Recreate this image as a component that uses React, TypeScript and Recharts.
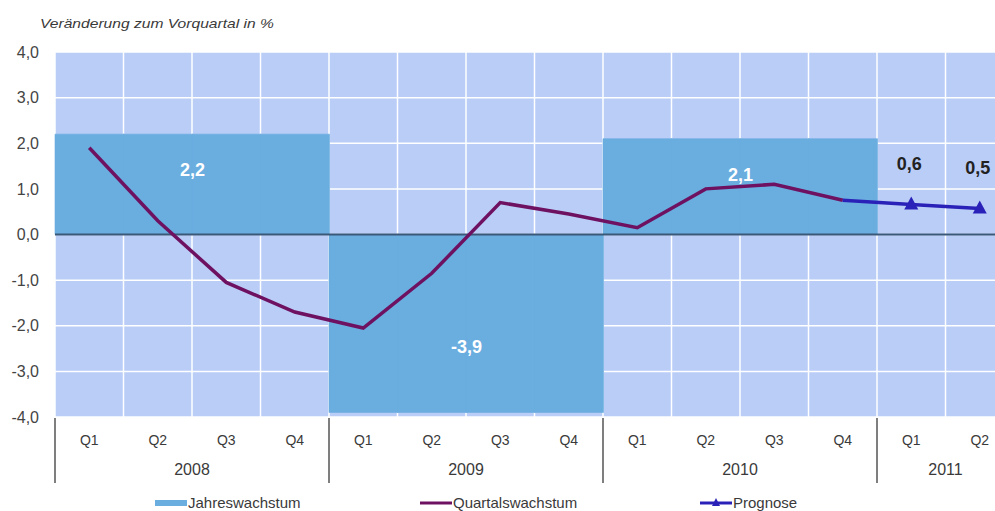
import React from 'react';
import {
  ComposedChart,
  Bar,
  Line,
  XAxis,
  YAxis,
  CartesianGrid,
  ReferenceLine,
  LabelList,
  Legend,
} from 'recharts';

// Achsenkategorien
const quarters = ['Q1', 'Q2', 'Q3', 'Q4', 'Q1', 'Q2', 'Q3', 'Q4', 'Q1', 'Q2', 'Q3', 'Q4', 'Q1', 'Q2'];
const quarterYears = ['2008', '2008', '2008', '2008', '2009', '2009', '2009', '2009', '2010', '2010', '2010', '2010', '2011', '2011'];

// Jahreswachstum je Jahr
const years = ['2008', '2009', '2010', '2011'];
const jahreswachstum = [2.2, -3.9, 2.1, null];

// Quartalswachstum (Veränderung zum Vorquartal)
const quartalswachstum = [1.9, 0.3, -1.05, -1.7, -2.05, -0.85, 0.7, 0.45, 0.15, 1.0, 1.1, 0.75, null, null];

// Prognose
const prognose = [null, null, null, null, null, null, null, null, null, null, null, 0.75, 0.66, 0.57];
const prognoseLabels = [null, null, null, null, null, null, null, null, null, null, null, null, '0,6', '0,5'];

const yTicks = [-4, -3, -2, -1, 0, 1, 2, 3, 4];

const legendItems = ['Jahreswachstum', 'Quartalswachstum', 'Prognose'];

const FONT = '"Liberation Sans", Arial, sans-serif';
const BG = '#b9cdf7';
const BAR_COLOR = '#6aaddf';
const PURPLE = '#6e1160';
const BLUE = '#2a22b8';
const TEXT = '#3a3a3a';

const chartData = quarters.map((q, i) => {
  const year = quarterYears[i];
  const yi = years.indexOf(year);
  const count = quarterYears.filter((y) => y === year).length;
  const posInYear = quarterYears.slice(0, i).filter((y) => y === year).length;
  return {
    key: `${year}-${q}`,
    q,
    year,
    count,
    posInYear,
    jahr: jahreswachstum[yi],
    quartal: quartalswachstum[i],
    prognose: prognose[i],
  };
});

const fmt = (v: number) => v.toFixed(1).replace('.', ',');

// X-Achse: Quartal + Jahr + Trennlinien
const QuarterTick = ({ x, y, payload }: any) => {
  const row = chartData.find((r) => r.key === payload.value);
  if (!row) return null;
  const half = payload.offset ?? 0;
  const mid = (row.count - 1) / 2;
  const showYear = row.posInYear === Math.floor(mid);
  const yearX = x + (mid - Math.floor(mid)) * 2 * half;
  return (
    <g>
      {row.posInYear === 0 && (
        <line x1={x - half} x2={x - half} y1={y - 7} y2={y + 58} stroke="#555" strokeWidth={1.5} />
      )}
      <text x={x} y={y + 20} textAnchor="middle" fontFamily={FONT} fontSize={14} fill={TEXT}>
        {row.q}
      </text>
      {showYear && (
        <text x={yearX} y={y + 50} textAnchor="middle" fontFamily={FONT} fontSize={16} fill={TEXT}>
          {row.year}
        </text>
      )}
    </g>
  );
};

// Beschriftung des Jahreswachstums in der Jahresmitte
const BarValueLabel = (props: any) => {
  const { x, y, width, height, value, index } = props;
  const row = chartData[index];
  if (value == null || !row) return null;
  const mid = (row.count - 1) / 2;
  if (row.posInYear !== Math.floor(mid)) return null;
  const cx = x + width / 2 + (mid - Math.floor(mid)) * width;
  const top = Math.min(y, y + height);
  const cy = value < 0 ? y + height / 2 + 30 : top + 42;
  return (
    <text x={cx} y={cy} textAnchor="middle" fontFamily={FONT} fontSize={18} fontWeight="bold" fill="#fff">
      {fmt(value)}
    </text>
  );
};

const TriangleDot = (props: any) => {
  const { cx, cy, index } = props;
  if (prognoseLabels[index] == null || cx == null || cy == null) return <g key={`d${index}`} />;
  return (
    <polygon
      key={`d${index}`}
      points={`${cx},${cy - 8} ${cx - 7},${cy + 5} ${cx + 7},${cy + 5}`}
      fill={BLUE}
    />
  );
};

const PrognoseLabel = (props: any) => {
  const { x, y, index } = props;
  const label = prognoseLabels[index];
  if (label == null) return null;
  return (
    <text x={x - 2} y={y - 34} textAnchor="middle" fontFamily={FONT} fontSize={18} fontWeight="bold" fill="#222">
      {label}
    </text>
  );
};

const LegendContent = () => {
  const lefts = [155, 420, 700];
  return (
    <div style={{ position: 'relative', height: 24, fontFamily: FONT, fontSize: 15, color: TEXT }}>
      {legendItems.map((name, i) => (
        <div
          key={name}
          style={{ position: 'absolute', left: lefts[i], top: 7, display: 'flex', alignItems: 'center', whiteSpace: 'nowrap' }}
        >
          <svg width={32} height={14} style={{ marginRight: 1 }}>
            {i === 0 && <rect x={0} y={4} width={32} height={6} fill={BAR_COLOR} />}
            {i === 1 && <line x1={0} x2={32} y1={7} y2={7} stroke={PURPLE} strokeWidth={3} />}
            {i === 2 && (
              <>
                <line x1={0} x2={32} y1={7} y2={7} stroke={BLUE} strokeWidth={3} />
                <polygon points="16,2 12,10 20,10" fill={BLUE} />
              </>
            )}
          </svg>
          <span>{name}</span>
        </div>
      ))}
    </div>
  );
};

export default function App() {
  return (
    <div style={{ position: 'absolute', left: 0, top: 0, width: 995, height: 511, overflow: 'hidden', background: '#fff' }}>
      <div
        style={{
          position: 'absolute',
          left: 40,
          top: 16,
          fontFamily: FONT,
          fontSize: 13,
          fontStyle: 'italic',
          color: TEXT,
          transform: 'scaleX(1.2)',
          transformOrigin: 'left',
          whiteSpace: 'nowrap',
        }}
      >
        Veränderung zum Vorquartal in %
      </div>
      <ComposedChart
        width={1020}
        height={511}
        data={chartData}
        margin={{ top: 52, right: 6, bottom: 0, left: 0 }}
        barCategoryGap={0}
        barGap={0}
      >
        <CartesianGrid
          fill={BG}
          fillOpacity={1}
          stroke="#ffffff"
          strokeWidth={1.5}
          verticalCoordinatesGenerator={({ offset }: any) =>
            chartData.map((_, i) => offset.left + (offset.width * i) / chartData.length)
          }
        />
        <XAxis
          dataKey="key"
          interval={0}
          axisLine={false}
          tickLine={false}
          height={70}
          tick={<QuarterTick />}
        />
        <YAxis
          type="number"
          domain={[-4, 4]}
          ticks={yTicks}
          width={55}
          axisLine={false}
          tickLine={false}
          tickMargin={10}
          tickFormatter={fmt}
          tick={{ fontFamily: FONT, fontSize: 16, fill: '#444' }}
        />
        <Legend verticalAlign="bottom" content={<LegendContent />} />
        <Bar
          dataKey="jahr"
          name="Jahreswachstum"
          fill={BAR_COLOR}
          stroke={BAR_COLOR}
          strokeWidth={0.6}
          isAnimationActive={false}
        >
          <LabelList dataKey="jahr" content={<BarValueLabel />} />
        </Bar>
        <ReferenceLine y={0} stroke="#3a5878" strokeWidth={2} />
        <Line
          dataKey="quartal"
          name="Quartalswachstum"
          stroke={PURPLE}
          strokeWidth={3.5}
          dot={false}
          activeDot={false}
          isAnimationActive={false}
        />
        <Line
          dataKey="prognose"
          name="Prognose"
          stroke={BLUE}
          strokeWidth={3.5}
          dot={<TriangleDot />}
          activeDot={false}
          isAnimationActive={false}
        >
          <LabelList dataKey="prognose" content={<PrognoseLabel />} />
        </Line>
      </ComposedChart>
    </div>
  );
}
